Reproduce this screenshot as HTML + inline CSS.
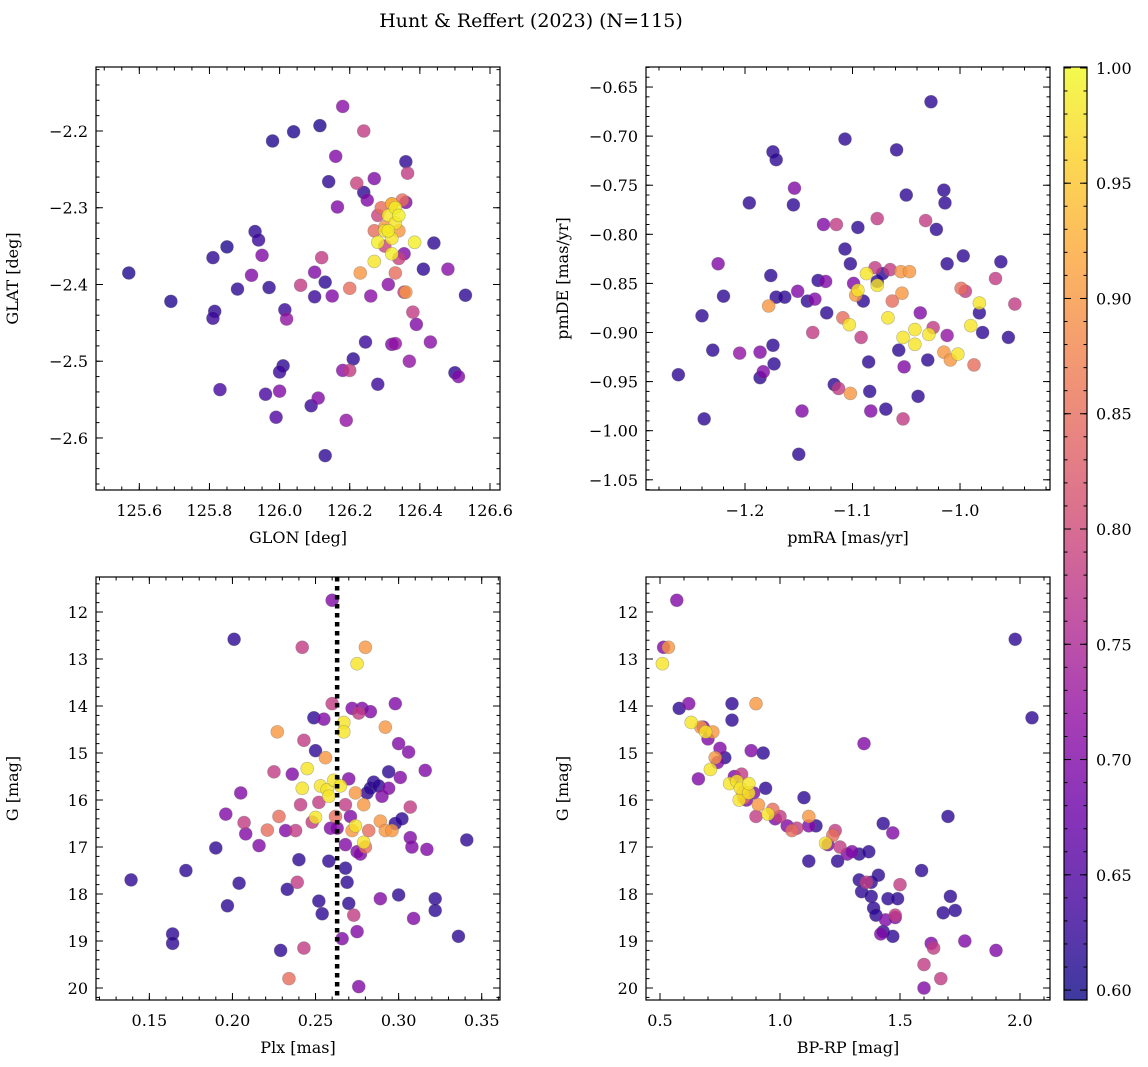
<!DOCTYPE html>
<html><head><meta charset="utf-8"><style>
body{margin:0;background:#fff}
svg{display:block;font-family:"DejaVu Serif","Liberation Serif",serif}
</style></head><body>
<svg id="fig" width="1148" height="1067" xmlns="http://www.w3.org/2000/svg">
<rect width="1148" height="1067" fill="#fff"/>
<text x="531" y="27" font-size="19" text-anchor="middle">Hunt &amp; Reffert (2023) (N=115)</text>
</svg>
<script>
// Panel 1: GLON vs GLAT
const p1x=[125.57,125.69,125.81,125.85,125.81,125.815,125.83,125.88,125.92,125.93,125.95,125.94,125.98,125.97,125.96,125.99,126.0,126.01,126.0,126.015,126.02,126.04,126.06,126.1,126.1,126.09,126.11,126.115,126.12,126.13,126.13,126.14,126.15,126.16,126.165,126.18,126.18,126.19,126.2,126.2,126.21,126.22,126.23,126.24,126.24,126.245,126.26,126.25,126.27,126.28,126.28,126.29,126.3,126.3,126.32,126.33,126.31,126.32,126.33,126.34,126.36,126.355,126.355,126.36,126.36,126.365,126.37,126.38,126.39,126.41,126.43,126.44,126.48,126.5,126.51,126.53,126.35,126.27,126.27,126.34,126.32,126.3,126.31,126.31,126.32,126.32,126.33,126.33,126.34,126.385,126.28];
const p1y=[-2.385,-2.422,-2.365,-2.351,-2.444,-2.435,-2.537,-2.406,-2.388,-2.331,-2.362,-2.342,-2.213,-2.404,-2.543,-2.573,-2.514,-2.506,-2.539,-2.433,-2.445,-2.201,-2.401,-2.384,-2.416,-2.558,-2.548,-2.193,-2.365,-2.397,-2.623,-2.266,-2.415,-2.233,-2.299,-2.168,-2.512,-2.577,-2.405,-2.512,-2.497,-2.268,-2.385,-2.2,-2.28,-2.475,-2.415,-2.29,-2.262,-2.53,-2.31,-2.3,-2.35,-2.325,-2.295,-2.385,-2.4,-2.478,-2.477,-2.366,-2.41,-2.36,-2.41,-2.293,-2.24,-2.255,-2.5,-2.436,-2.452,-2.38,-2.475,-2.346,-2.38,-2.515,-2.52,-2.414,-2.29,-2.33,-2.37,-2.33,-2.36,-2.33,-2.31,-2.33,-2.34,-2.295,-2.3,-2.32,-2.31,-2.345,-2.345];
const p1c=[0.61,0.61,0.62,0.61,0.63,0.62,0.64,0.62,0.7,0.62,0.7,0.63,0.61,0.62,0.64,0.65,0.63,0.62,0.7,0.63,0.72,0.61,0.78,0.7,0.63,0.63,0.7,0.61,0.78,0.62,0.62,0.62,0.7,0.7,0.7,0.71,0.71,0.72,0.85,0.78,0.62,0.79,0.9,0.78,0.62,0.63,0.71,0.7,0.7,0.63,0.79,0.85,0.79,0.9,0.9,0.85,0.71,0.7,0.72,0.79,0.9,0.7,0.78,0.7,0.62,0.78,0.72,0.78,0.7,0.62,0.71,0.62,0.71,0.62,0.7,0.62,0.85,0.85,0.98,0.9,0.99,0.98,0.98,0.99,0.98,0.93,0.99,0.98,0.99,0.99,0.99];
// Panel 2: pmRA vs pmDE
const p2x=[-1.262,-1.24,-1.238,-1.23,-1.225,-1.22,-1.205,-1.196,-1.186,-1.186,-1.183,-1.178,-1.176,-1.174,-1.171,-1.171,-1.174,-1.173,-1.163,-1.155,-1.154,-1.151,-1.15,-1.147,-1.142,-1.137,-1.135,-1.132,-1.127,-1.125,-1.124,-1.117,-1.115,-1.113,-1.109,-1.107,-1.107,-1.102,-1.099,-1.097,-1.095,-1.103,-1.102,-1.095,-1.092,-1.09,-1.087,-1.085,-1.084,-1.083,-1.079,-1.077,-1.077,-1.077,-1.072,-1.069,-1.067,-1.065,-1.063,-1.059,-1.057,-1.055,-1.054,-1.053,-1.053,-1.052,-1.05,-1.047,-1.042,-1.042,-1.039,-1.037,-1.032,-1.029,-1.03,-1.027,-1.025,-1.022,-1.015,-1.014,-1.012,-1.012,-1.015,-1.009,-1.002,-0.999,-0.997,-0.995,-0.99,-0.987,-0.982,-0.982,-0.979,-0.967,-0.962,-0.955,-0.949];
const p2y=[-0.943,-0.883,-0.988,-0.918,-0.83,-0.863,-0.921,-0.768,-0.92,-0.946,-0.94,-0.873,-0.842,-0.716,-0.724,-0.864,-0.913,-0.932,-0.864,-0.77,-0.753,-0.858,-1.024,-0.98,-0.868,-0.9,-0.866,-0.847,-0.79,-0.848,-0.88,-0.953,-0.79,-0.957,-0.885,-0.703,-0.815,-0.83,-0.85,-0.862,-0.857,-0.892,-0.962,-0.793,-0.905,-0.868,-0.84,-0.93,-0.96,-0.98,-0.834,-0.848,-0.852,-0.784,-0.84,-0.978,-0.885,-0.836,-0.868,-0.714,-0.918,-0.838,-0.86,-0.905,-0.988,-0.935,-0.76,-0.838,-0.912,-0.897,-0.965,-0.88,-0.786,-0.902,-0.928,-0.665,-0.895,-0.795,-0.755,-0.768,-0.83,-0.903,-0.92,-0.928,-0.922,-0.855,-0.822,-0.858,-0.893,-0.933,-0.87,-0.88,-0.9,-0.845,-0.828,-0.905,-0.871];
const p2c=[0.62,0.62,0.62,0.62,0.7,0.62,0.72,0.62,0.7,0.62,0.7,0.9,0.62,0.62,0.62,0.62,0.62,0.62,0.62,0.62,0.7,0.7,0.62,0.7,0.62,0.78,0.7,0.62,0.7,0.7,0.62,0.62,0.78,0.78,0.85,0.62,0.62,0.62,0.7,0.9,0.98,0.98,0.9,0.62,0.78,0.62,0.98,0.62,0.62,0.7,0.78,0.62,0.98,0.78,0.62,0.62,0.98,0.78,0.85,0.62,0.62,0.9,0.9,0.98,0.78,0.7,0.62,0.9,0.98,0.98,0.62,0.7,0.78,0.98,0.62,0.62,0.78,0.62,0.62,0.62,0.62,0.72,0.9,0.9,0.98,0.85,0.62,0.78,0.98,0.85,0.98,0.62,0.62,0.78,0.62,0.62,0.78];
// Panel 3: Plx vs G
const p3x=[0.139,0.164,0.164,0.172,0.19,0.196,0.197,0.201,0.204,0.205,0.207,0.208,0.216,0.221,0.225,0.227,0.228,0.229,0.232,0.233,0.234,0.236,0.238,0.239,0.24,0.241,0.242,0.242,0.243,0.243,0.245,0.248,0.249,0.25,0.25,0.252,0.252,0.253,0.254,0.255,0.256,0.257,0.258,0.258,0.259,0.26,0.26,0.261,0.262,0.263,0.265,0.266,0.267,0.267,0.268,0.268,0.268,0.269,0.27,0.27,0.271,0.272,0.272,0.273,0.274,0.274,0.275,0.275,0.275,0.276,0.276,0.277,0.278,0.279,0.279,0.28,0.28,0.281,0.282,0.283,0.283,0.285,0.288,0.289,0.289,0.29,0.292,0.292,0.294,0.294,0.296,0.298,0.298,0.3,0.3,0.301,0.302,0.306,0.307,0.307,0.308,0.309,0.316,0.317,0.322,0.322,0.336,0.341];
const p3y=[17.7,18.85,19.05,17.5,17.02,16.3,18.25,12.58,17.77,15.85,16.48,16.72,16.97,16.64,15.4,14.55,16.35,19.2,16.65,17.9,19.8,15.45,16.65,17.75,17.27,16.1,15.75,12.75,19.15,14.73,15.33,16.47,14.25,16.37,14.95,16.05,18.15,15.7,18.42,14.28,15.1,15.78,15.92,17.3,16.6,11.75,13.95,15.58,16.35,16.6,15.7,18.95,14.35,14.55,17.45,16.1,16.95,17.75,18.2,15.55,16.35,16.65,14.05,18.45,15.85,16.55,17.1,13.1,18.8,19.97,14.15,17.15,14.05,16.1,16.9,12.75,17.0,15.85,16.65,14.12,15.75,15.62,15.7,16.45,18.1,15.92,14.45,16.65,15.75,15.4,16.65,13.95,16.5,18.02,14.8,15.52,16.4,14.98,16.15,16.8,17.0,18.52,15.37,17.05,18.1,18.35,18.9,16.85];
const p3c=[0.62,0.62,0.62,0.62,0.62,0.7,0.62,0.62,0.62,0.7,0.78,0.7,0.7,0.85,0.78,0.9,0.85,0.62,0.7,0.62,0.85,0.7,0.78,0.78,0.62,0.78,0.98,0.78,0.78,0.78,0.98,0.78,0.62,0.98,0.62,0.78,0.62,0.98,0.62,0.7,0.9,0.98,0.98,0.62,0.7,0.7,0.78,0.98,0.85,0.7,0.98,0.7,0.98,0.98,0.62,0.78,0.7,0.62,0.62,0.7,0.7,0.9,0.7,0.78,0.9,0.98,0.7,0.98,0.7,0.7,0.78,0.7,0.7,0.9,0.98,0.9,0.85,0.62,0.85,0.7,0.62,0.62,0.62,0.9,0.7,0.7,0.9,0.9,0.7,0.62,0.9,0.7,0.62,0.62,0.7,0.7,0.62,0.7,0.78,0.7,0.7,0.7,0.7,0.7,0.62,0.62,0.62,0.62];
// Panel 4: BP-RP vs G
const p4x=[0.51,0.515,0.535,0.57,0.58,0.62,0.63,0.66,0.67,0.68,0.69,0.7,0.71,0.72,0.73,0.74,0.75,0.77,0.79,0.8,0.8,0.81,0.82,0.83,0.835,0.84,0.845,0.85,0.86,0.87,0.87,0.88,0.89,0.9,0.9,0.91,0.93,0.94,0.95,0.97,0.98,1.0,1.03,1.05,1.07,1.1,1.12,1.12,1.12,1.15,1.19,1.2,1.22,1.23,1.24,1.25,1.28,1.3,1.33,1.33,1.34,1.35,1.36,1.37,1.38,1.38,1.39,1.4,1.41,1.42,1.43,1.43,1.44,1.45,1.47,1.47,1.48,1.48,1.49,1.5,1.59,1.6,1.6,1.63,1.64,1.67,1.68,1.7,1.71,1.73,1.77,1.9,1.98,2.05];
const p4y=[13.1,12.75,12.75,11.75,14.05,13.95,14.35,15.55,14.45,14.45,14.55,14.7,15.35,14.55,15.1,15.2,14.9,15.1,15.65,13.95,14.3,15.5,15.6,16.0,15.75,15.45,15.85,15.95,16.0,15.85,15.65,14.95,15.85,16.35,13.95,16.1,15.0,15.75,16.3,16.2,16.4,16.35,16.55,16.65,16.6,15.95,16.35,16.55,17.3,16.55,16.92,16.95,16.75,16.65,17.3,17.0,17.15,17.1,17.15,17.7,17.95,14.8,17.75,17.1,18.05,17.75,18.3,18.45,17.6,18.85,18.8,16.5,18.55,18.1,18.9,16.7,18.45,18.5,18.1,17.8,17.5,19.5,20.0,19.05,19.15,19.8,18.4,16.35,18.05,18.35,19.0,19.2,12.58,14.25];
const p4c=[0.98,0.7,0.9,0.7,0.62,0.7,0.98,0.7,0.9,0.7,0.98,0.7,0.98,0.9,0.9,0.7,0.7,0.62,0.98,0.62,0.62,0.7,0.98,0.98,0.98,0.78,0.9,0.85,0.7,0.98,0.98,0.7,0.7,0.78,0.9,0.9,0.62,0.62,0.98,0.85,0.7,0.78,0.7,0.85,0.78,0.62,0.9,0.7,0.62,0.62,0.98,0.7,0.85,0.78,0.62,0.78,0.7,0.7,0.62,0.62,0.62,0.7,0.78,0.62,0.62,0.62,0.62,0.62,0.62,0.7,0.62,0.62,0.7,0.62,0.62,0.7,0.78,0.7,0.62,0.78,0.62,0.78,0.7,0.7,0.78,0.78,0.62,0.62,0.62,0.62,0.7,0.7,0.62,0.62];
const cbTicks=[0.60,0.65,0.70,0.75,0.80,0.85,0.90,0.95,1.00];
const vline=[0.263];

const NS="http://www.w3.org/2000/svg";
const svg=document.getElementById('fig');
function mk(tag,attrs,parent){const e=document.createElementNS(NS,tag);for(const k in attrs)e.setAttribute(k,attrs[k]);(parent||svg).appendChild(e);return e;}
const stops=["#0d0887","#41049d","#6a00a8","#8f0da4","#b12a90","#cc4778","#e16462","#f2844b","#fca636","#fcce25","#f0f921"];
function hex(h){return[parseInt(h.slice(1,3),16),parseInt(h.slice(3,5),16),parseInt(h.slice(5,7),16)];}
const CMIN=0.5957,CMAX=1.0004;
function cmap(v){let t=(v-CMIN)/(CMAX-CMIN);t=Math.max(0,Math.min(1,t))*10;const i=Math.min(9,Math.floor(t)),f=t-i;const a=hex(stops[i]),b=hex(stops[i+1]);return`rgb(${a.map((x,k)=>Math.round(x+(b[k]-x)*f)).join(',')})`;}
function fmt(v,d){return (v<0?'\u2212':'')+Math.abs(v).toFixed(d);}

function panel(name,L,T,R,B,xd,yd,xmaj,xmin,xdec,ymaj,ymin,ydec,xl,yl,X,Y,C){
  const g=mk('g',{});
  
  
  const sx=v=>L+(v-xd[0])/(xd[1]-xd[0])*(R-L);
  const sy=v=>T+(v-yd[0])/(yd[1]-yd[0])*(B-T);
  const eps=1e-9;
  function ticks(d,step){const a=[];const lo=Math.min(d[0],d[1]),hi=Math.max(d[0],d[1]);for(let k=Math.ceil(lo/step-eps);k*step<=hi+eps;k++)a.push(k*step);return a;}
  const tg=mk('g',{stroke:'#000','stroke-width':1},g);
  ticks(xd,xmin).forEach(v=>{const x=sx(v);mk('line',{x1:x,x2:x,y1:B,y2:B-3.5},tg);mk('line',{x1:x,x2:x,y1:T,y2:T+3.5},tg);});
  ticks(yd,ymin).forEach(v=>{const y=sy(v);mk('line',{x1:L,x2:L+3.5,y1:y,y2:y},tg);mk('line',{x1:R,x2:R-3.5,y1:y,y2:y},tg);});
  ticks(xd,xmaj).forEach(v=>{const x=sx(v);mk('line',{x1:x,x2:x,y1:B,y2:B-7},tg);mk('line',{x1:x,x2:x,y1:T,y2:T+7},tg);
    const t=mk('text',{x:x,y:B+26,'font-size':16,'text-anchor':'middle'},g);t.textContent=fmt(v,xdec);
    });
  ticks(yd,ymaj).forEach(v=>{const y=sy(v);mk('line',{x1:L,x2:L+7,y1:y,y2:y},tg);mk('line',{x1:R,x2:R-7,y1:y,y2:y},tg);
    const t=mk('text',{x:L-8,y:y+6,'font-size':16,'text-anchor':'end'},g);t.textContent=fmt(v,ydec);
    });
  const pts=mk('g',{},g);
  
  
  const idx=X.map((_,i)=>i).sort((a,b)=>C[a]-C[b]);
  idx.forEach(i=>{const c=mk('circle',{cx:sx(X[i]),cy:sy(Y[i]),r:6.5,fill:cmap(C[i]),'fill-opacity':0.8,stroke:'#666','stroke-opacity':0.45,'stroke-width':0.6},pts);
    });
  mk('rect',{x:L,y:T,width:R-L,height:B-T,fill:'none',stroke:'#000','stroke-width':1.2},g);
  const xt=mk('text',{x:(L+R)/2,y:B+53,'font-size':16,'text-anchor':'middle'},g);xt.textContent=xl;
  
  const ytx=L-78,yty=(T+B)/2;
  const yt=mk('text',{x:ytx,y:yty,'font-size':16,'text-anchor':'middle',transform:`rotate(-90 ${ytx} ${yty})`},g);yt.textContent=yl;
  
  return {sx,sy,g};
}
panel('panel-glon-glat',96,67,500,490,[125.4765,126.6285],[-2.1166,-2.6678],0.2,0.05,1,0.1,0.02,1,'GLON [deg]','GLAT [deg]',p1x,p1y,p1c);
panel('panel-pm',646,67,1050,490,[-1.2921,-0.9163],[-0.6296,-1.0604],0.1,0.02,1,0.05,0.01,2,'pmRA [mas/yr]','pmDE [mas/yr]',p2x,p2y,p2c);
const P3=panel('panel-plx-g',96,577,500,1000,[0.1179,0.3610],[11.255,20.255],0.05,0.01,2,1,0.2,0,'Plx [mas]','G [mag]',p3x,p3y,p3c);
panel('panel-cmd',646,577,1050,1000,[0.4417,2.125],[11.255,20.255],0.5,0.1,1,1,0.2,0,'BP-RP [mag]','G [mag]',p4x,p4y,p4c);
vline.forEach(v=>{const l=mk('line',{x1:P3.sx(v),x2:P3.sx(v),y1:577,y2:1000,stroke:'#000','stroke-width':4.5,'stroke-dasharray':'4.5 4.5'},P3.g);
  });
// colorbar
const cb=mk('g',{});


const CL=1064,CR=1087,CT=67,CB=1000;
const cy=v=>CT+(CMAX-v)/(CMAX-CMIN)*(CB-CT);
const defs=mk('defs',{},cb);
const lg=mk('linearGradient',{id:'gr',x1:0,y1:1,x2:0,y2:0},defs);
stops.forEach((s,i)=>mk('stop',{offset:i/10,'stop-color':s},lg));
mk('rect',{x:CL,y:CT,width:CR-CL,height:CB-CT,fill:'url(#gr)','fill-opacity':0.8},cb);
for(let k=60;k<=100;k++){const y=cy(k/100);mk('line',{x1:CR,x2:CR-3.5,y1:y,y2:y,stroke:'#000'},cb);mk('line',{x1:CL,x2:CL+3.5,y1:y,y2:y,stroke:'#000'},cb);}
cbTicks.forEach(v=>{const y=cy(v);mk('line',{x1:CR,x2:CR-7,y1:y,y2:y,stroke:'#000'},cb);mk('line',{x1:CL,x2:CL+7,y1:y,y2:y,stroke:'#000'},cb);
  const t=mk('text',{x:CR+9,y:y+6,'font-size':16},cb);t.textContent=v.toFixed(2);
  });
mk('rect',{x:CL,y:CT,width:CR-CL,height:CB-CT,fill:'none',stroke:'#000','stroke-width':1.2},cb);
</script>
</body></html>
